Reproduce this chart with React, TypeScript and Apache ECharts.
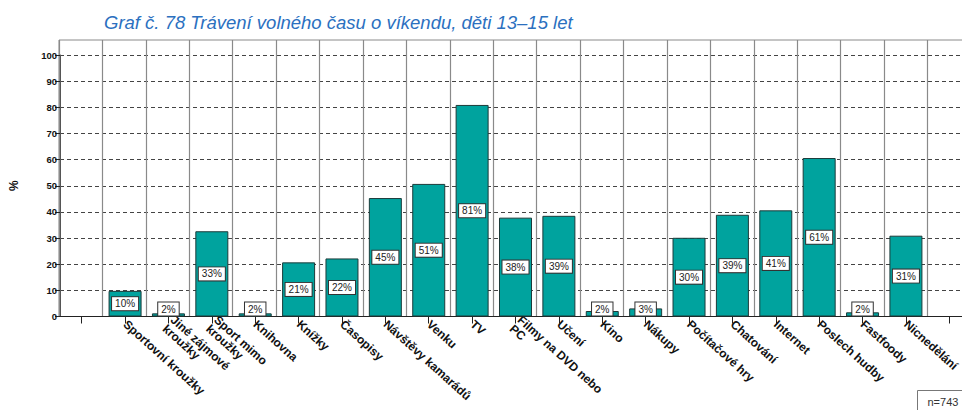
import React, { useEffect, useRef } from "react";
import * as echarts from "echarts";

const categories: string[] = [
  "",
  "Sportovní kroužky",
  "Jiné zájmové\nkroužky",
  "Sport mimo\nkroužky",
  "Knihovna",
  "Knížky",
  "Časopisy",
  "Návštěvy kamarádů",
  "Venku",
  "TV",
  "Filmy na DVD nebo\nPC",
  "Učení",
  "Kino",
  "Nákupy",
  "Počítačové hry",
  "Chatování",
  "Internet",
  "Poslech hudby",
  "Fastfoody",
  "Nicnedělání",
  "",
];

// bar heights (%)
const values: (number | null)[] = [
  null, 9.8, 1.2, 32.6, 1.2, 20.7, 22.2, 45.3, 50.7, 80.9, 37.8, 38.5, 2.1, 3.1, 30.1, 38.9, 40.6, 60.6, 1.6, 30.9, null,
];

// printed percentage labels
const labels: (string | null)[] = [
  null, "10%", "2%", "33%", "2%", "21%", "22%", "45%", "51%", "81%", "38%", "39%", "2%", "3%", "30%", "39%", "41%", "61%", "2%", "31%", null,
];

const yTicks = { min: 0, max: 100, interval: 10 };
const titleText = "Graf č. 78 Trávení volného času o víkendu, děti 13–15 let";
const sampleText = "n=743";

export default function App() {
  const ref = useRef<HTMLDivElement>(null);
  useEffect(() => {
    if (!ref.current) return;
    const chart = echarts.init(ref.current, null, { renderer: "svg" });
    const font = "Arial, 'Liberation Sans', sans-serif";
    const barData = values.map((v, i) => {
      if (v === null) return "-";
      const small = v < 6;
      return {
        value: v,
        label: {
          show: true,
          formatter: labels[i] as string,
          position: small ? "insideBottom" : "inside",
          distance: small ? 1 : 5,
        },
      };
    });
    chart.setOption({
      animation: false,
      title: {
        text: titleText,
        left: 99,
        top: 8,
        textStyle: {
          fontFamily: font,
          fontStyle: "italic",
          fontWeight: "normal",
          fontSize: 18.5,
          color: "#2b70bf",
        },
      },
      grid: [
        { left: 59, top: 40, width: 912, height: 276.5, show: true, borderColor: "#8a8a8a", borderWidth: 1, backgroundColor: "transparent" },
        { left: 59, top: 55, width: 912, height: 261.5 },
      ],
      xAxis: [
        {
          type: "category",
          gridIndex: 0,
          data: categories,
          axisLine: { show: false },
          axisTick: { show: false },
          axisLabel: { show: false },
          splitLine: { show: true, interval: 0, lineStyle: { color: "#8a8a8a", width: 1.2 } },
        },
        {
          type: "category",
          gridIndex: 1,
          data: categories,
          axisLine: { show: true, lineStyle: { color: "#222", width: 1.2 } },
          axisTick: { show: true, alignWithLabel: true, interval: 0, length: 7, lineStyle: { color: "#222" } },
          splitLine: { show: false },
          axisLabel: {
            interval: 0,
            rotate: -42,
            margin: 6,
            fontFamily: font,
            fontWeight: "bold",
            fontSize: 12,
            color: "#111",
            lineHeight: 12,
          },
        },
      ],
      yAxis: [
        { type: "value", gridIndex: 0, min: 0, max: 1, show: false, splitLine: { show: false } },
        {
          type: "value",
          gridIndex: 1,
          min: yTicks.min,
          max: yTicks.max,
          interval: yTicks.interval,
          name: "%",
          nameLocation: "middle",
          nameGap: 40,
          nameRotate: 90,
          nameTextStyle: { fontFamily: font, fontWeight: "bold", fontSize: 12, color: "#111" },
          axisLine: { show: true, lineStyle: { color: "#555" } },
          axisTick: { show: true, length: 5, lineStyle: { color: "#222" } },
          axisLabel: { margin: 3, fontFamily: font, fontWeight: "bold", fontSize: 9.5, color: "#111" },
          splitLine: { show: true, lineStyle: { color: "#444", type: [4, 3], width: 1 } },
        },
      ],
      series: [
        {
          type: "bar",
          xAxisIndex: 1,
          yAxisIndex: 1,
          data: barData,
          barWidth: 33,
          itemStyle: { color: "#00a39e", borderColor: "#1c3b3a", borderWidth: 1 },
          label: {
            show: true,
            fontFamily: font,
            fontSize: 10,
            color: "#222",
            backgroundColor: "#ffffff",
            borderColor: "#333",
            borderWidth: 1,
            padding: [2, 3, 1, 3],
          },
        },
      ],
      graphic: [
        {
          type: "group",
          left: 917,
          top: 390,
          children: [
            { type: "rect", shape: { x: 0, y: 0, width: 70, height: 30 }, style: { fill: "#fff", stroke: "#777", lineWidth: 1 } },
            { type: "text", x: 10, y: 6, style: { text: sampleText, fontFamily: font, fontSize: 11, fill: "#333" } },
          ],
        },
      ],
    });
    return () => chart.dispose();
  }, []);
  return (
    <div style={{ position: "fixed", left: 0, top: 0, width: 962, height: 410, overflow: "hidden", background: "#fff" }}>
      <div ref={ref} style={{ width: 1000, height: 410 }} />
    </div>
  );
}
